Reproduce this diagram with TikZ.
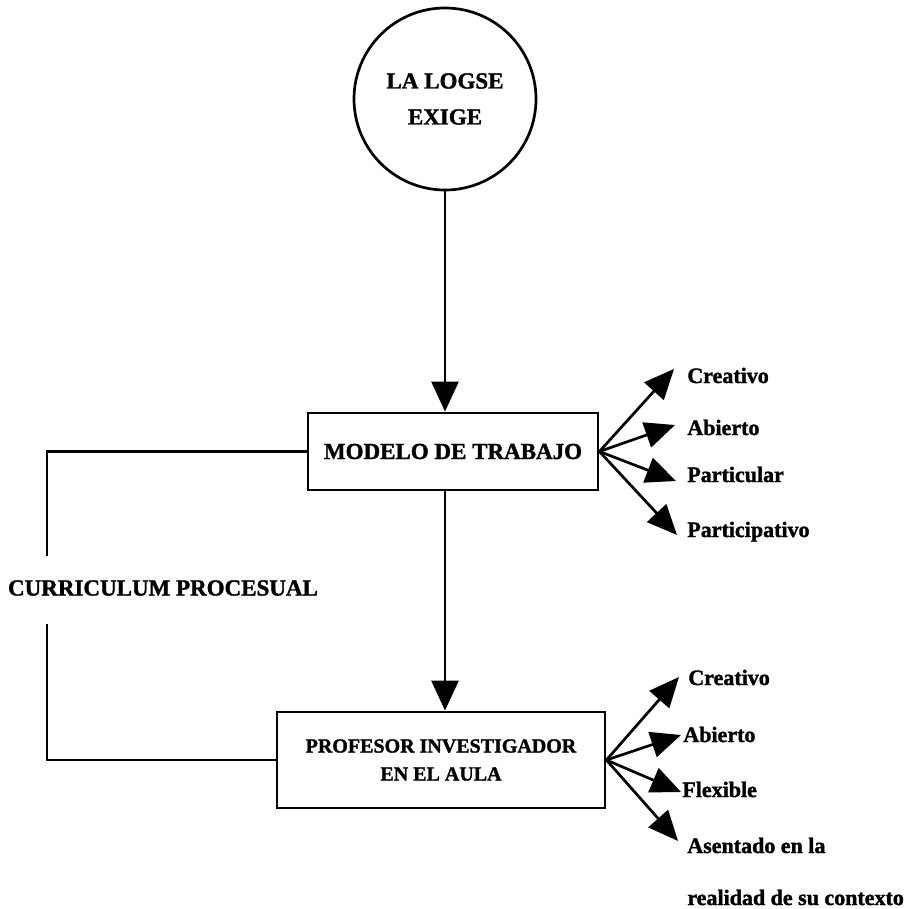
\documentclass[tikz,border=0pt]{standalone}
\usepackage{fontspec}
\setmainfont{Liberation Serif}[BoldFeatures={FakeBold=1.5}]
\usetikzlibrary{arrows.meta}
\begin{document}
\begin{tikzpicture}[x=1pt,y=-1pt,
  line width=2.7pt,
  every node/.style={font=\bfseries\fontsize{23}{36}\selectfont, inner sep=0pt},
  bigarr/.style={-{Triangle[length=30pt,width=27pt]}},
  fanarr/.style={-{Triangle[length=30pt,width=26pt]}},
  boxnode/.style={draw, rectangle, line width=2.8pt, align=center},
  lbl/.style={anchor=base west, font=\bfseries\fontsize{22}{26}\selectfont}]
\useasboundingbox (0,0) rectangle (915,909);

\node[draw, circle, minimum size=182pt, align=center] (circ) at (445,99) {LA LOGSE\\EXIGE};
\node[boxnode, minimum width=290pt, minimum height=77pt] (box1) at (453,451.5) {MODELO DE TRABAJO};
\node[boxnode, minimum width=328pt, minimum height=96pt, font=\bfseries\fontsize{20}{28}\selectfont] (box2) at (441,760) {PROFESOR INVESTIGADOR\\EN EL AULA};
\node (cur) at (163,588) {CURRICULUM PROCESUAL};

\coordinate (c1) at (47,556);
\coordinate (c2) at (47,624);

\draw[bigarr] (circ.south) -- (circ.south |- box1.north);
\draw[bigarr] (circ.south |- box1.south) -- (circ.south |- box2.north);
\draw (box1.west) -| (c1);
\draw (c2) |- (box2.west);

% fan 1
\coordinate (t11) at (674,369);
\coordinate (t12) at (675,425);
\coordinate (t13) at (676,481);
\coordinate (t14) at (677,535);
\draw[fanarr] (box1.east) -- (t11);
\draw[fanarr] (box1.east) -- (t12);
\draw[fanarr] (box1.east) -- (t13);
\draw[fanarr] (box1.east) -- (t14);
\node[lbl] (l11) at (686,383) {Creativo};
\node[lbl] (l12) at (686,435) {Abierto};
\node[lbl] (l13) at (686,482) {Particular};
\node[lbl] (l14) at (686,537) {Participativo};

% fan 2
\coordinate (t21) at (679,677);
\coordinate (t22) at (681,735);
\coordinate (t23) at (681,792);
\coordinate (t24) at (678,841);
\draw[fanarr] (box2.east) -- (t21);
\draw[fanarr] (box2.east) -- (t22);
\draw[fanarr] (box2.east) -- (t23);
\draw[fanarr] (box2.east) -- (t24);
\node[lbl] (l21) at (687,685) {Creativo};
\node[lbl] (l22) at (682,742) {Abierto};
\node[lbl] (l23) at (681,797) {Flexible};
\node[lbl] (l24) at (686,853) {Asentado en la};
\node[lbl] (l25) at (686,905) {realidad de su contexto};
\end{tikzpicture}
\end{document}
